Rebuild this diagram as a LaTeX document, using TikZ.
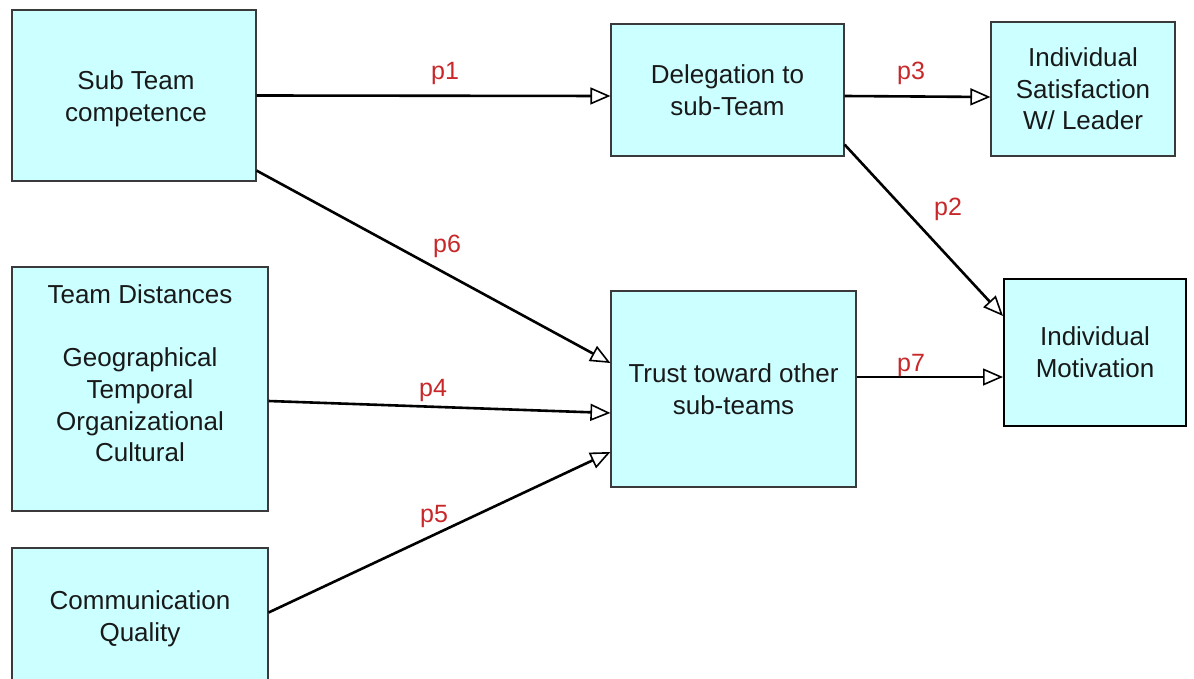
\documentclass[tikz,border=0pt]{standalone}
\usepackage{fontspec}
\setmainfont{Liberation Sans}
\usetikzlibrary{arrows.meta}
\definecolor{boxfill}{HTML}{CCFFFF}
\definecolor{boxline}{HTML}{3A3A3A}
\definecolor{lblred}{HTML}{C8282A}
\begin{document}
\begin{tikzpicture}[x=1pt,y=-1pt,
  box/.style={draw=boxline,line width=1.2pt,fill=boxfill,inner sep=0pt,align=center,
    font=\fontsize{26}{31.6}\selectfont,text=black!90},
  lbl/.style={text=lblred,font=\fontsize{25}{30}\selectfont,inner sep=0pt},
  txt/.style={align=center,font=\fontsize{26}{31.6}\selectfont,text=black!90,inner sep=0pt},
  conn/.style={line width=2.6pt,black,-{Triangle[open,length=20pt,width=17pt,fill=white,line width=1.6pt]}}]
\useasboundingbox (0,0) rectangle (1194,679);
\fill[white] (0,0) rectangle (1194,679);
% boxes
\node[box,minimum width=244pt,minimum height=171pt] (sub) at (134,95.5) {};
\node[txt] (subt) at (136,98.5) {Sub Team\\competence};
\node[box,minimum width=233pt,minimum height=132pt] (del) at (727.5,90) {Delegation to\\sub-Team};
\node[box,minimum width=184pt,minimum height=134pt] (sat) at (1083,89) {Individual\\Satisfaction\\W/ Leader};
\node[box,minimum width=256pt,minimum height=244pt] (dist) at (140,389) {};
\node[txt] (distt) at (140,373.5) {Team Distances\\[31.6pt]Geographical\\Temporal\\Organizational\\Cultural};
\node[box,minimum width=245pt,minimum height=196pt] (trust) at (733.5,389) {Trust toward other\\sub-teams};
\node[box,draw=black,line width=2pt,minimum width=182pt,minimum height=147pt] (mot) at (1095,352.5) {Individual\\Motivation};
\node[box,minimum width=256pt,minimum height=140pt] (comm) at (140,618) {};
\node[txt] (commt) at (140,618.5) {Communication\\Quality};
% connectors
\draw[conn] (sub.east) -- ([yshift=-6pt]del.west);
\draw[conn] ([yshift=-6pt]del.east) -- ([yshift=-8pt]sat.west);
\draw[conn] ([yshift=12pt]del.south east) -- ([yshift=36.5pt]mot.west);
\draw[conn] ([yshift=11pt]sub.south east) -- ([yshift=26pt]trust.west);
\draw[conn] ([yshift=-12pt]dist.east) -- ([yshift=-24pt]trust.west);
\draw[conn] ([yshift=5.5pt]comm.east) -- ([yshift=-63pt]trust.west);
\draw[conn] ([yshift=12pt]trust.east) -- ([yshift=-24.5pt]mot.west);
% labels
\node[lbl] (l1) at (445,73) {p1};
\node[lbl] (l3) at (911,73) {p3};
\node[lbl] (l2) at (948,209) {p2};
\node[lbl] (l6) at (447,246) {p6};
\node[lbl] (l4) at (433,390) {p4};
\node[lbl] (l5) at (434,516) {p5};
\node[lbl] (l7) at (911,365) {p7};
\end{tikzpicture}
\end{document}
